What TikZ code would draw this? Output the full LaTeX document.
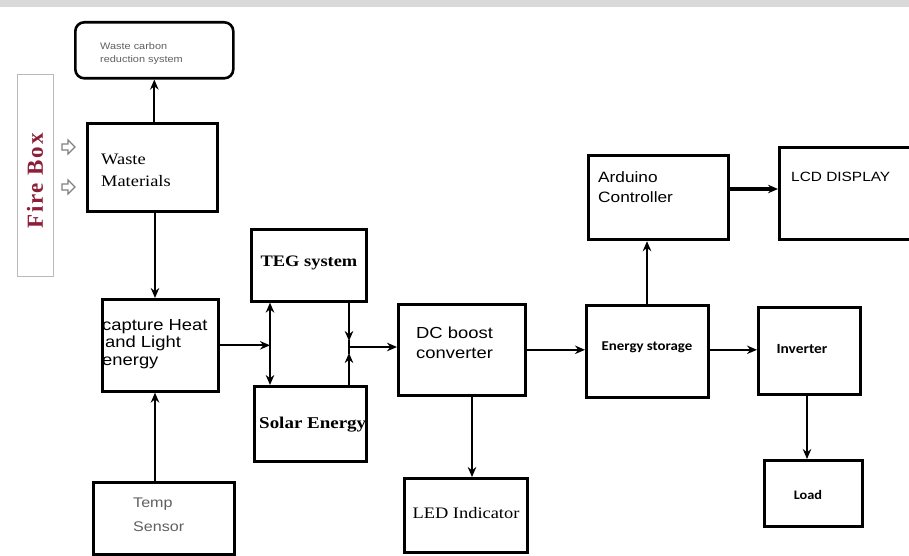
\documentclass[tikz,border=0pt]{standalone}
\usepackage{fontspec}
\setmainfont{Liberation Serif}[FakeStretch=1.15]
\setsansfont{Liberation Sans}[FakeStretch=1.15]
\newfontfamily\calfont{Carlito}[FakeStretch=1.1]
\newfontfamily\firefont{Liberation Serif}[LetterSpace=8]
\usetikzlibrary{arrows.meta}
\definecolor{firered}{RGB}{140,30,55}
\definecolor{txtgray}{RGB}{95,95,95}
\tikzset{
 blk/.style={draw, line width=2.6pt, inner sep=0pt, anchor=north west},
 thk/.style={blk, line width=3.2pt},
 conn/.style={line width=2.1pt, -{Stealth[length=10pt,width=8.5pt]}},
 lbl/.style={inner sep=0pt, align=left, anchor=west},
 ctr/.style={inner sep=0pt, align=center},
}
\newcommand{\fsz}[2]{\fontsize{#1}{#2}\selectfont}
\begin{document}
\begin{tikzpicture}[x=1pt,y=-1pt]
\useasboundingbox (0,0) rectangle (909,556);
\clip (0,0) rectangle (909,556);
\fill[gray!30] (0,0) rectangle (909,7);

% boxes
\node[blk, minimum width=158pt, minimum height=56pt, rounded corners=9pt] (wc) at (74,21) {};
\node[draw=gray!55, line width=1.4pt, minimum width=36pt, minimum height=202pt, anchor=north west, inner sep=0pt] (fb) at (17,74) {};
\node[blk, minimum width=130pt, minimum height=88pt] (wm) at (86,122) {};
\node[blk, minimum width=116pt, minimum height=92pt] (cap) at (101,298) {};
\node[blk, minimum width=141pt, minimum height=72pt] (temp) at (92,481) {};
\node[blk, minimum width=115pt, minimum height=72pt] (teg) at (250,228) {};
\node[blk, minimum width=112pt, minimum height=75pt] (sol) at (253,385) {};
\node[blk, minimum width=127pt, minimum height=91pt] (dc) at (397,303) {};
\node[blk, minimum width=123pt, minimum height=74pt] (led) at (403,477) {};
\node[blk, minimum width=122pt, minimum height=92pt] (es) at (585,304) {};
\node[thk, minimum width=140pt, minimum height=84pt] (ard) at (587,154) {};
\node[thk, minimum width=150pt, minimum height=92pt] (lcd) at (778,146) {};
\node[blk, minimum width=102pt, minimum height=87pt] (inv) at (757,306) {};
\node[blk, minimum width=98pt, minimum height=66pt] (load) at (763,459) {};

% texts
\node[lbl, font=\sffamily\fsz{9.5}{13}, text=txtgray] (t-wc) at (100,54) {Waste carbon\\reduction system};
\node[ctr, rotate=90, font=\firefont\bfseries\fsz{23}{23}, text=firered] (t-fb) at (35,181) {Fire Box};
\node[lbl, font=\rmfamily\fsz{16}{22}] (t-wm) at (101,170) {Waste\\Materials};
\node[lbl, font=\sffamily\fsz{16}{17.5}] (t-cap) at (102,344) {capture Heat\\\hspace{3pt}and Light\\energy};
\node[ctr, font=\rmfamily\bfseries\fsz{16}{18}] (t-teg) at (309,263) {TEG system};
\node[lbl, font=\rmfamily\bfseries\fsz{16.5}{18}] (t-sol) at (259,425) {Solar Energy};
\node[lbl, font=\sffamily\fsz{16}{20}] (t-dc) at (416,343) {DC boost\\converter};
\node[ctr, font=\calfont\bfseries\fsz{13.5}{15}] (t-es) at (647,347) {Energy storage};
\node[ctr, font=\calfont\bfseries\fsz{14}{15}] (t-inv) at (802,349) {Inverter};
\node[ctr, font=\calfont\bfseries\fsz{13}{15}] (t-load) at (808,495) {Load};
\node[ctr, font=\rmfamily\fsz{16}{18}] (t-led) at (466,513) {LED Indicator};
\node[lbl, font=\sffamily\fsz{15}{20}] (t-ard) at (598,187) {Arduino\\Controller};
\node[lbl, font=\sffamily\fsz{13.4}{15}] (t-lcd) at (791,177) {LCD DISPLAY};
\node[lbl, font=\sffamily\fsz{14}{24}, text=txtgray] (t-temp) at (133,515) {Temp\\Sensor};

% hollow arrows by the fire box
\draw[gray, line width=1.1pt] (62,144) -- (68,144) -- (68,140) -- (75,147) -- (68,154) -- (68,150) -- (62,150) -- cycle;
\draw[gray, line width=1.1pt] (62,184) -- (68,184) -- (68,180) -- (75,187) -- (68,194) -- (68,190) -- (62,190) -- cycle;

% helper coordinates
\coordinate (cx) at (155,0);
\coordinate (jl) at (270,345);
\coordinate (jr) at (349,347);
\coordinate (ax) at (647,0);
\coordinate (ay) at (0,189);
\coordinate (lx) at (807,0);
\coordinate (dx) at (472,0);

% connectors
\draw[conn] (wc.south |- wm.north) -- (wc.south);
\draw[conn] (cx |- wm.south) -- (cx |- cap.north);
\draw[conn] (cx |- temp.north) -- (cx |- cap.south);
\draw[conn] (cap.east) -- (cap.east -| jl);
\draw[conn] (jl) -- (jl |- teg.south);
\draw[conn] (jl) -- (jl |- sol.north);
\draw[conn] (jr |- teg.south) -- ([yshift=6pt]jr);
\draw[conn] (jr |- sol.north) -- ([yshift=-6pt]jr);
\draw[line width=2.1pt] ([yshift=7pt]jr) -- ([yshift=-7pt]jr);
\draw[conn] (jr) -- (jr -| dc.west);
\draw[conn] (dc.east) -- (dc.east -| es.west);
\draw[conn] (ax |- es.north) -- (ax |- ard.south);
\draw[conn, line width=3.2pt] (ard.east |- ay) -- (lcd.west |- ay);
\draw[conn] (es.east |- dc.east) -- (inv.west |- dc.east);
\draw[conn] (lx |- inv.south) -- (lx |- load.north);
\draw[conn] (dx |- dc.south) -- (dx |- led.north);
\end{tikzpicture}
\end{document}
